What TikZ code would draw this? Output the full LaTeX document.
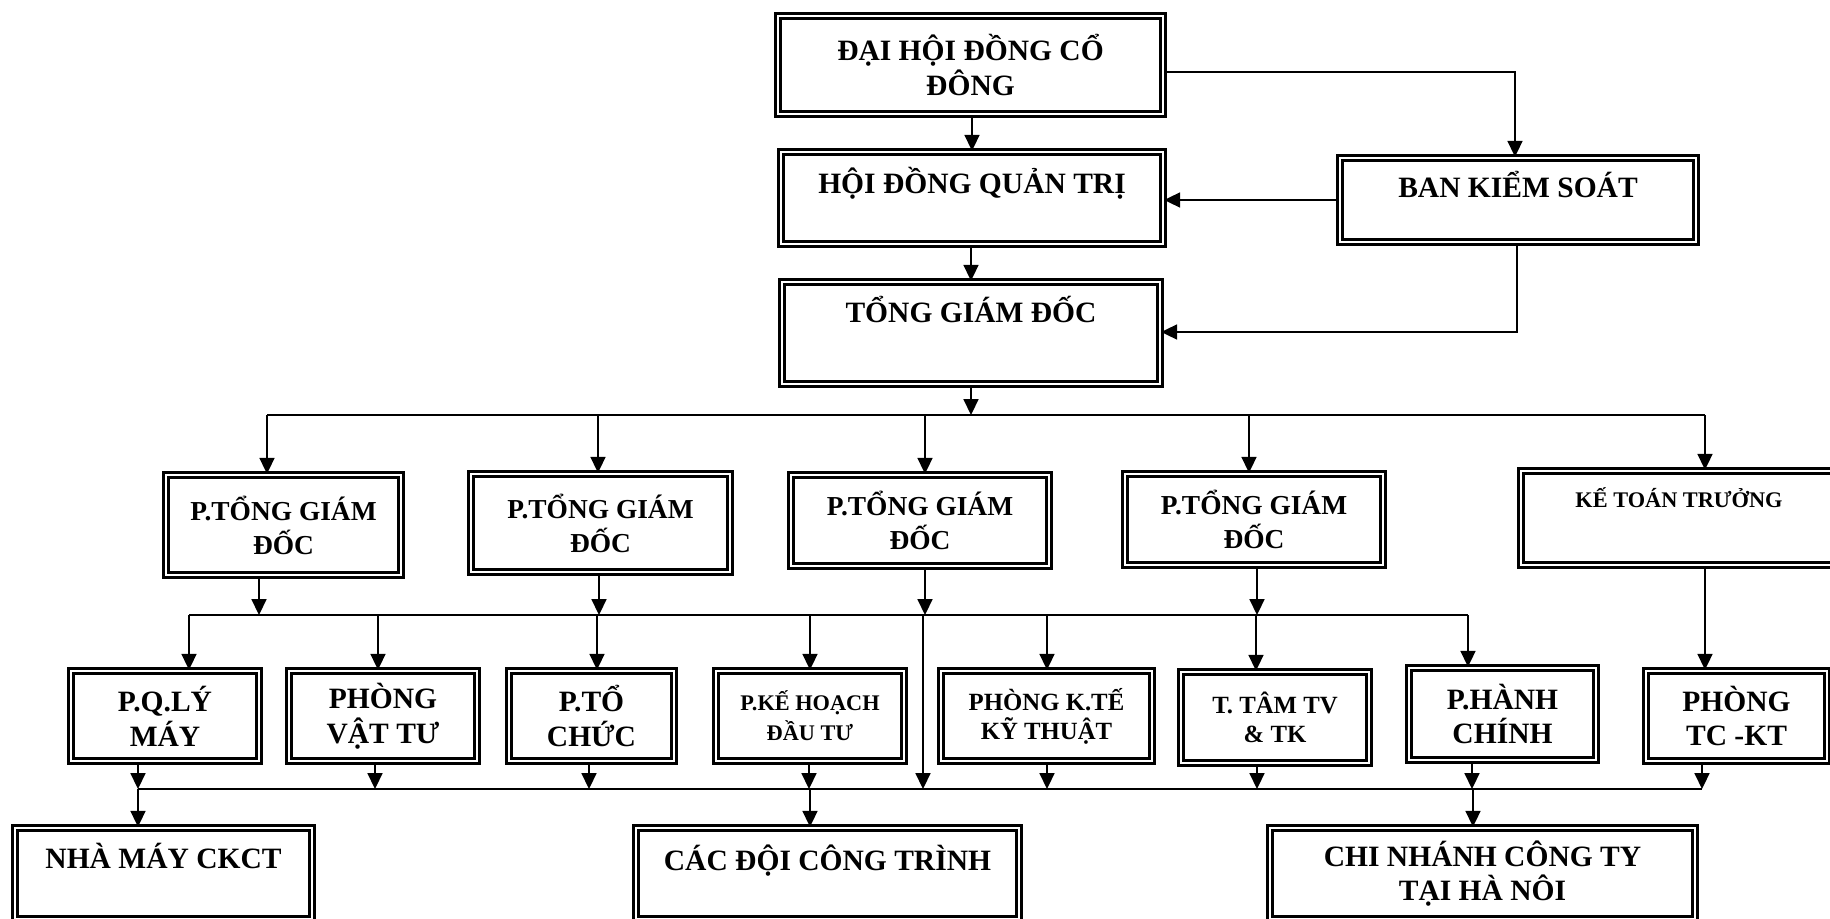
\documentclass[tikz,border=0pt]{standalone}
\usepackage{fontspec}
\setmainfont{Liberation Serif}
\usepackage{tikz}
\usetikzlibrary{arrows.meta,positioning}

\begin{document}
\begin{tikzpicture}[x=0.02cm, y=-0.02cm,
    hop/.style={draw, double, line width=1.4pt, double distance=1.4pt, align=center, inner sep=0pt},
    lon/.style={font=\bfseries\fontsize{16.8}{19.8}\selectfont},
    vua/.style={font=\bfseries\fontsize{15.6}{19.3}\selectfont},
    nho/.style={font=\bfseries\fontsize{14.1}{16.5}\selectfont},
    nhon/.style={font=\bfseries\fontsize{12.7}{17}\selectfont},
    tren/.style={text height=12pt, text depth=#1},
    mui/.style={-{Triangle[length=9pt,width=8.5pt]}, line width=0.95pt},
    duong/.style={line width=0.95pt}]
    \useasboundingbox (0,0) rectangle (1830,919);

    % cấp trên
    \node[hop, lon, minimum width=7.70cm, minimum height=1.96cm] (dhdcd) at (970.5,65) {ĐẠI HỘI ĐỒNG CỔ\\ĐÔNG};
    \node[hop, lon, tren=16.7pt, minimum width=7.64cm, minimum height=1.84cm] (hdqt) at (972,198) {HỘI ĐỒNG QUẢN TRỊ};
    \node[hop, lon, tren=24.1pt, minimum width=7.56cm, minimum height=2.04cm] (tgd) at (971,333) {TỔNG GIÁM ĐỐC};
    \node[hop, lon, tren=14.5pt, minimum width=7.12cm, minimum height=1.68cm] (bks) at (1518,200) {BAN KIỂM SOÁT};

    % các phó tổng giám đốc
    \foreach \n/\x/\y/\w/\h in {ptgd1/283.5/525/4.70/2.00, ptgd2/600.5/523/5.18/1.96,
                                ptgd3/920/520.5/5.16/1.82, ptgd4/1254/519.5/5.16/1.82} {
        \node[hop, vua, minimum width=\w cm, minimum height=\h cm] (\n) at (\x,\y) {P.TỔNG GIÁM\\ĐỐC};
    }
    \node[hop, nhon, tren=23.4pt, minimum width=6.32cm, minimum height=1.88cm] (ktt) at (1679,518) {KẾ TOÁN TRƯỞNG};

    % các phòng ban
    \node[hop, lon, minimum width=3.76cm, minimum height=1.80cm] (pqly) at (165,716) {P.Q.LÝ\\MÁY};
    \node[hop, lon, minimum width=3.76cm, minimum height=1.80cm] (pvt) at (383,716) {PHÒNG\\VẬT TƯ};
    \node[hop, lon, minimum width=3.30cm, minimum height=1.80cm] (ptc) at (591.5,716) {P.TỔ\\CHỨC};
    \node[hop, nhon, minimum width=3.76cm, minimum height=1.80cm] (pkh) at (810,716) {P.KẾ HOẠCH\\ĐẦU TƯ};
    \node[hop, nho, minimum width=4.22cm, minimum height=1.80cm] (pkt) at (1046.5,716) {PHÒNG K.TẾ\\KỸ THUẬT};
    \node[hop, nho, minimum width=3.76cm, minimum height=1.82cm] (ttam) at (1275,717.5) {T. TÂM TV\\\& TK};
    \node[hop, lon, minimum width=3.74cm, minimum height=1.84cm] (phc) at (1502.5,714) {P.HÀNH\\CHÍNH};
    \node[hop, lon, minimum width=3.62cm, minimum height=1.80cm] (ptckt) at (1736.5,716) {PHÒNG\\TC -KT};

    % đơn vị trực thuộc
    \node[hop, lon, tren=17.9pt, minimum width=5.94cm, minimum height=1.82cm] (nmay) at (163.5,873.5) {NHÀ MÁY CKCT};
    \node[hop, lon, tren=15.7pt, minimum width=7.66cm, minimum height=1.82cm] (cacdoi) at (827.5,873.5) {CÁC ĐỘI CÔNG TRÌNH};
    \node[hop, lon, minimum width=8.50cm, minimum height=1.82cm] (chinhanh) at (1482.5,873.5) {CHI NHÁNH CÔNG TY\\TẠI HÀ NÔI};

    % điểm nối
    \coordinate (k1) at (1515,72);
    \coordinate (k2) at (1517,332);
    \coordinate (b1L) at (267,415);
    \coordinate (b1R) at (1705,415);
    \coordinate (b2L) at (189,615);
    \coordinate (b2R) at (1468,615);
    \coordinate (b3L) at (138,789);
    \coordinate (b3R) at (1702,789);
    \coordinate (xuyen) at (923,615);

    \draw[mui] (dhdcd.south -| hdqt.north) -- (hdqt.north);
    \draw[mui] (hdqt.south -| tgd.north) -- (tgd.north);
    \draw[mui] (dhdcd.east |- k1) -- (k1) -- (k1 |- bks.north);
    \draw[mui] (bks.west) -- (bks.west -| hdqt.east);
    \draw[mui] (bks.south -| k2) -- (k2) -- (k2 -| tgd.east);
    \draw[mui] (tgd.south) -- (tgd.south |- b1L);

    % thanh ngang
    \draw[duong] (b1L) -- (b1R);
    \draw[duong] (b2L) -- (b2R);
    \draw[duong] (b3L) -- (b3R);

    \foreach \x/\n in {267/ptgd1, 598/ptgd2, 925/ptgd3, 1249/ptgd4, 1705/ktt}
        \draw[mui] (b1L -| \x,0) -- (\n.north -| \x,0);
    \foreach \x/\n in {259/ptgd1, 599/ptgd2, 925/ptgd3, 1257/ptgd4}
        \draw[mui] (\n.south -| \x,0) -- (b2L -| \x,0);
    \foreach \x/\n in {189/pqly, 378/pvt, 597/ptc, 810/pkh, 1047/pkt, 1256/ttam, 1468/phc}
        \draw[mui] (b2L -| \x,0) -- (\n.north -| \x,0);
    \draw[mui] (ktt.south -| b1R) -- (ptckt.north -| b1R);
    \draw[mui] (xuyen) -- (xuyen |- b3L);
    \foreach \x/\n in {138/pqly, 375/pvt, 589/ptc, 809/pkh, 1047/pkt, 1257/ttam, 1472/phc, 1702/ptckt}
        \draw[mui] (\n.south -| \x,0) -- (b3L -| \x,0);
    \foreach \x/\n in {138/nmay, 810/cacdoi, 1473/chinhanh}
        \draw[mui] (b3L -| \x,0) -- (\n.north -| \x,0);
\end{tikzpicture}
\end{document}
